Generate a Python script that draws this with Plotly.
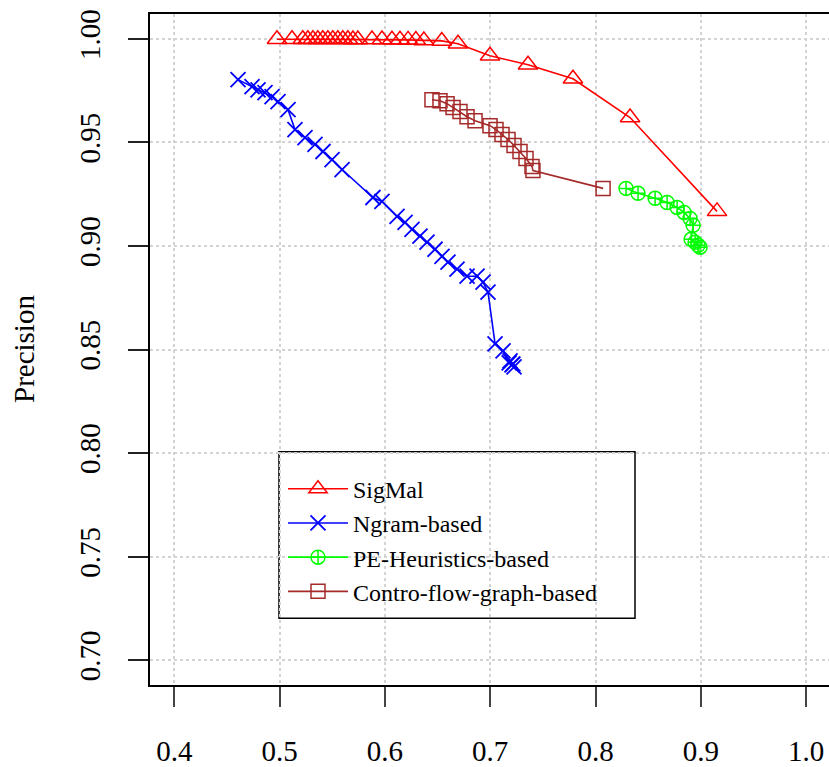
import plotly.graph_objects as go

# ---- data (Recall on x, Precision on y) ----
sigmal_recall = [0.4975, 0.5118, 0.5220, 0.5268, 0.5316, 0.5363, 0.5410, 0.5458, 0.5505, 0.5553,
                 0.5600, 0.5648, 0.5696, 0.5743, 0.5877, 0.5972, 0.6067, 0.6143, 0.6220, 0.6294,
                 0.6370, 0.6540, 0.6694, 0.6998, 0.7359, 0.7786, 0.8328, 0.9154]
sigmal_precision = [0.9998, 0.9998, 0.9998, 0.9998, 0.9998, 0.9998, 0.9998, 0.9998, 0.9998, 0.9998,
                    0.9998, 0.9998, 0.9997, 0.9997, 0.9997, 0.9997, 0.9996, 0.9996, 0.9995, 0.9994,
                    0.9992, 0.9990, 0.9976, 0.9918, 0.9875, 0.9807, 0.9620, 0.9167]

ngram_recall = [0.4605, 0.4738, 0.4795, 0.4861, 0.4928, 0.4985, 0.5080, 0.5146, 0.5241, 0.5336,
                0.5412, 0.5498, 0.5593, 0.5886, 0.5972, 0.6115, 0.6191, 0.6257, 0.6333, 0.6400,
                0.6476, 0.6542, 0.6599, 0.6685, 0.6780, 0.6875, 0.6932, 0.6979, 0.7046, 0.7122,
                0.7188, 0.7207, 0.7226, 0.7180, 0.7215]
ngram_precision = [0.9803, 0.9769, 0.9754, 0.9740, 0.9721, 0.9697, 0.9658, 0.9562, 0.9523, 0.9490,
                   0.9456, 0.9417, 0.9369, 0.9234, 0.9215, 0.9143, 0.9114, 0.9080, 0.9047, 0.9018,
                   0.8984, 0.8950, 0.8922, 0.8888, 0.8854, 0.8854, 0.8825, 0.8777, 0.8527, 0.8493,
                   0.8445, 0.8426, 0.8416, 0.8435, 0.8430]

pe_recall = [0.8290, 0.8404, 0.8566, 0.8680, 0.8775, 0.8841, 0.8898, 0.8927, 0.8908, 0.8946,
             0.8974, 0.8993]
pe_precision = [0.9278, 0.9254, 0.9230, 0.9210, 0.9186, 0.9162, 0.9133, 0.9100, 0.9032, 0.9018,
                0.9003, 0.8994]

cfg_recall = [0.6447, 0.6523, 0.6590, 0.6647, 0.6713, 0.6780, 0.6856, 0.6998, 0.7055, 0.7112,
              0.7169, 0.7226, 0.7283, 0.7340, 0.7397, 0.7406, 0.8072]
cfg_precision = [0.9706, 0.9701, 0.9687, 0.9668, 0.9649, 0.9624, 0.9605, 0.9581, 0.9562, 0.9538,
                 0.9514, 0.9485, 0.9456, 0.9422, 0.9384, 0.9364, 0.9278]

x_ticks = [0.4, 0.5, 0.6, 0.7, 0.8, 0.9, 1.0]
x_ticklabels = ["0.4", "0.5", "0.6", "0.7", "0.8", "0.9", "1.0"]
y_ticks = [0.70, 0.75, 0.80, 0.85, 0.90, 0.95, 1.00]
y_ticklabels = ["0.70", "0.75", "0.80", "0.85", "0.90", "0.95", "1.00"]

FONT = '"Liberation Serif", "Times New Roman", Times, serif'
W, H = 829, 767
L, R, T, B = 150, 0, 14, 80

fig = go.Figure()

def add(name, xs, ys, color, symbol, size, mlw):
    fig.add_trace(go.Scatter(
        x=xs, y=ys, name=name, mode="lines+markers",
        line=dict(color=color, width=1.6),
        marker=dict(symbol=symbol, size=size, color=color,
                    line=dict(color=color, width=mlw)),
    ))

add("SigMal", sigmal_recall, sigmal_precision, "#FF0000", "triangle-up-open", 17, 1.5)
add("Ngram-based", ngram_recall, ngram_precision, "#0000FF", "x-thin-open", 15, 1.8)
add("PE-Heuristics-based", pe_recall, pe_precision, "#00FF00", "circle-cross-open", 14, 1.5)
add("Contro-flow-graph-based", cfg_recall, cfg_precision, "#A52A2A", "square-open", 14, 1.5)

pw = W - L - R
ph = H - T - B
def px(xp):
    return (xp - L) / pw
def py(yp):
    return (H - B - yp) / ph

# legend box
fig.add_shape(type="rect", xref="paper", yref="paper",
              x0=px(279), x1=px(635), y0=py(620), y1=py(453),
              line=dict(color="black", width=1.5), fillcolor="white", layer="between")

fig.add_annotation(text="Precision", xref="paper", yref="paper",
                   x=px(24), y=py(350), showarrow=False, textangle=-90,
                   font=dict(family=FONT, size=29, color="black"),
                   xanchor="center", yanchor="middle")

fig.update_layout(
    width=W, height=H,
    margin=dict(l=L, r=R, t=T, b=B),
    paper_bgcolor="white", plot_bgcolor="white",
    font=dict(family=FONT, color="black"),
    showlegend=True,
    legend=dict(x=px(283), y=py(468), xanchor="left", yanchor="top",
                bgcolor="rgba(0,0,0,0)", borderwidth=0,
                font=dict(family=FONT, size=24, color="black"),
                itemwidth=60, tracegroupgap=0),
    xaxis=dict(range=[0.3769, 0.4 + (W - R - 174.3) / 1053.0],
               tickvals=x_ticks, ticktext=x_ticklabels,
               ticks="outside", ticklen=20, tickwidth=1.5, tickcolor="#444",
               ticklabelstandoff=19,
               tickfont=dict(family=FONT, size=29, color="black"),
               showgrid=True, gridcolor="#d3d3d3", griddash="dot", gridwidth=1.5,
               showline=True, mirror=True, linecolor="black", linewidth=2,
               zeroline=False),
    yaxis=dict(range=[0.688, 1.012],
               tickvals=y_ticks, ticktext=y_ticklabels,
               ticks="outside", ticklen=20, tickwidth=1.5, tickcolor="#222",
               tickangle=-90, ticklabelstandoff=16,
               tickfont=dict(family=FONT, size=29, color="black"),
               showgrid=True, gridcolor="#d3d3d3", griddash="dot", gridwidth=1.5,
               showline=True, mirror=False, linecolor="black", linewidth=2,
               zeroline=False),
)

fig.write_html("out.html")
